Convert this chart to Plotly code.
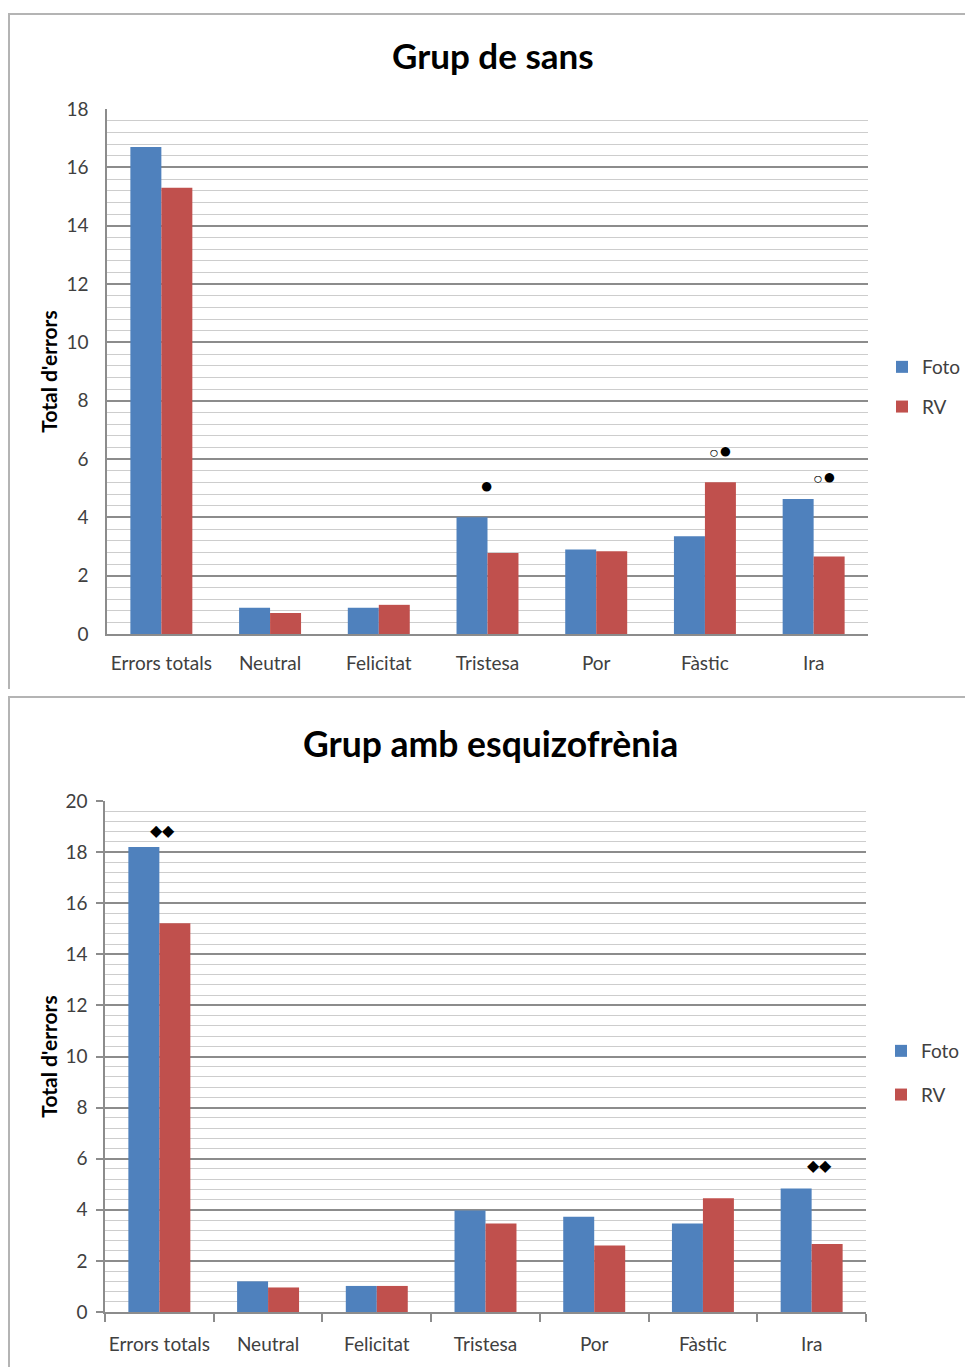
import plotly.graph_objects as go

W, H = 965, 1367

categories = ["Errors totals", "Neutral", "Felicitat", "Tristesa", "Por", "Fàstic", "Ira"]

sans_foto = [16.7, 0.9, 0.9, 4.0, 2.9, 3.35, 4.63]
sans_rv = [15.3, 0.72, 1.0, 2.78, 2.84, 5.2, 2.66]

esq_foto = [18.2, 1.2, 1.02, 3.97, 3.73, 3.46, 4.83]
esq_rv = [15.22, 0.96, 1.02, 3.46, 2.6, 4.45, 2.66]

# significance markers
sig_sans_cats = ["Tristesa", "Fàstic", "Ira"]
sig_sans_y = [5.13, 6.33, 5.44]
sig_sans_text = ["●",
                 "<span style='font-size:16px'>○</span><span style='font-size:22px'>●</span>",
                 "<span style='font-size:16px'>○</span><span style='font-size:22px'>●</span>"]
sig_sans_shift = [-1, 16, 11]

sig_esq_cats = ["Errors totals", "Ira"]
sig_esq_y = [18.86, 5.74]
sig_esq_text = ["◆◆", "◆◆"]
sig_esq_shift = [3, 8]

titles = ["Grup de sans", "Grup amb esquizofrènia"]
y_title = "Total d'errors"
series_names = ["Foto", "RV"]

BLUE = "#4F81BD"
RED = "#C0504D"
FONT = "Lato, 'Open Sans', sans-serif"
TXT = "#404040"


def px(x):
    return x / W


def py(y):
    return 1 - y / H


fig = go.Figure()

fig.add_trace(go.Bar(x=categories, y=sans_foto, name=series_names[0], marker_color=BLUE,
                     xaxis="x", yaxis="y", legend="legend", legendgroup="a",
                     marker_line_width=0))
fig.add_trace(go.Bar(x=categories, y=sans_rv, name=series_names[1], marker_color=RED,
                     xaxis="x", yaxis="y", legend="legend", legendgroup="b",
                     marker_line_width=0))
fig.add_trace(go.Bar(x=categories, y=esq_foto, name=series_names[0], marker_color=BLUE,
                     xaxis="x2", yaxis="y2", legend="legend2", legendgroup="c",
                     marker_line_width=0))
fig.add_trace(go.Bar(x=categories, y=esq_rv, name=series_names[1], marker_color=RED,
                     xaxis="x2", yaxis="y2", legend="legend2", legendgroup="d",
                     marker_line_width=0))

MAJ = "#8c8c8c"
MIN = "#cdcdcd"

common_y = dict(
    tick0=0, dtick=2, showgrid=True, gridcolor=MAJ, gridwidth=1.6,
    minor=dict(tick0=0, dtick=0.4, showgrid=True, gridcolor=MIN, gridwidth=1.4),
    showline=True, linecolor=MAJ, linewidth=1.5, zeroline=False,
    tickfont=dict(family=FONT, size=19, color=TXT),
    title=dict(text=y_title, font=dict(family=FONT, size=21, color="#000000",
                                       weight="bold")),
    fixedrange=True, automargin=False,
)
common_x = dict(
    type="category", showline=True, linecolor=MAJ, linewidth=1.6, tickangle=0,
    showgrid=False, tickfont=dict(family=FONT, size=19, color=TXT),
    fixedrange=True, automargin=False,
)

fig.update_layout(
    width=W, height=H,
    margin=dict(l=0, r=0, t=0, b=0, autoexpand=False),
    paper_bgcolor="white", plot_bgcolor="white",
    barmode="group", bargap=0.43, bargroupgap=0,
    showlegend=True,
    xaxis=dict(domain=[px(107), px(868)], anchor="y", ticks="", ticklabelstandoff=11, **common_x),
    yaxis=dict(domain=[py(634), py(109)], anchor="x", range=[0, 18], ticks="",
               ticklabelstandoff=13, **common_y),
    xaxis2=dict(domain=[px(105), px(866)], anchor="y2", ticks="outside", ticklen=8,
                tickcolor=MAJ, tickwidth=1.5, tickson="boundaries",
                ticklabelstandoff=14, **common_x),
    yaxis2=dict(domain=[py(1312), py(801)], anchor="x2", range=[0, 20], ticks="outside",
                ticklen=7, tickcolor=MAJ, tickwidth=1.5, ticklabelstandoff=5, **common_y),
    legend=dict(x=px(882), y=py(348), xanchor="left", yanchor="top",
                font=dict(family=FONT, size=19, color=TXT), tracegroupgap=12,
                itemwidth=30, bgcolor="rgba(0,0,0,0)"),
    legend2=dict(x=px(881), y=py(1032), xanchor="left", yanchor="top",
                 font=dict(family=FONT, size=19, color=TXT), tracegroupgap=16,
                 itemwidth=30, bgcolor="rgba(0,0,0,0)"),
)

fig.layout.yaxis.title.standoff = 3
fig.layout.yaxis2.title.standoff = 2

# Chart titles
fig.add_annotation(text=titles[0], x=px(493), y=py(55), xref="paper", yref="paper",
                   showarrow=False, xanchor="center", yanchor="middle",
                   font=dict(family=FONT, size=35, color="#000000", weight="bold"))
fig.add_annotation(text=titles[1], x=px(491), y=py(743), xref="paper", yref="paper",
                   showarrow=False, xanchor="center", yanchor="middle",
                   font=dict(family=FONT, size=35.5, color="#000000", weight="bold"))

# significance markers
for c, yv, t, s in zip(sig_sans_cats, sig_sans_y, sig_sans_text, sig_sans_shift):
    fig.add_annotation(text=t, x=c, y=yv, xref="x", yref="y", showarrow=False,
                       xshift=s, yanchor="middle",
                       font=dict(size=22, color="#000000"))
for c, yv, t, s in zip(sig_esq_cats, sig_esq_y, sig_esq_text, sig_esq_shift):
    fig.add_annotation(text=t, x=c, y=yv, xref="x2", yref="y2", showarrow=False,
                       xshift=s, yanchor="middle",
                       font=dict(size=16, color="#000000"))

# chart frames
FR = "#b4b4b4"
for (y0, y1) in [(14, 689), (697, 1367)]:
    fig.add_shape(type="line", xref="paper", yref="paper", x0=px(8), x1=1,
                  y0=py(y0), y1=py(y0), line=dict(color=FR, width=2))
    fig.add_shape(type="line", xref="paper", yref="paper", x0=px(9), x1=px(9),
                  y0=py(y0), y1=py(y1), line=dict(color=FR, width=2))

fig.write_html("out.html", config={"displayModeBar": False},
               post_script="document.body.style.margin='0';document.body.style.overflow='hidden';")
